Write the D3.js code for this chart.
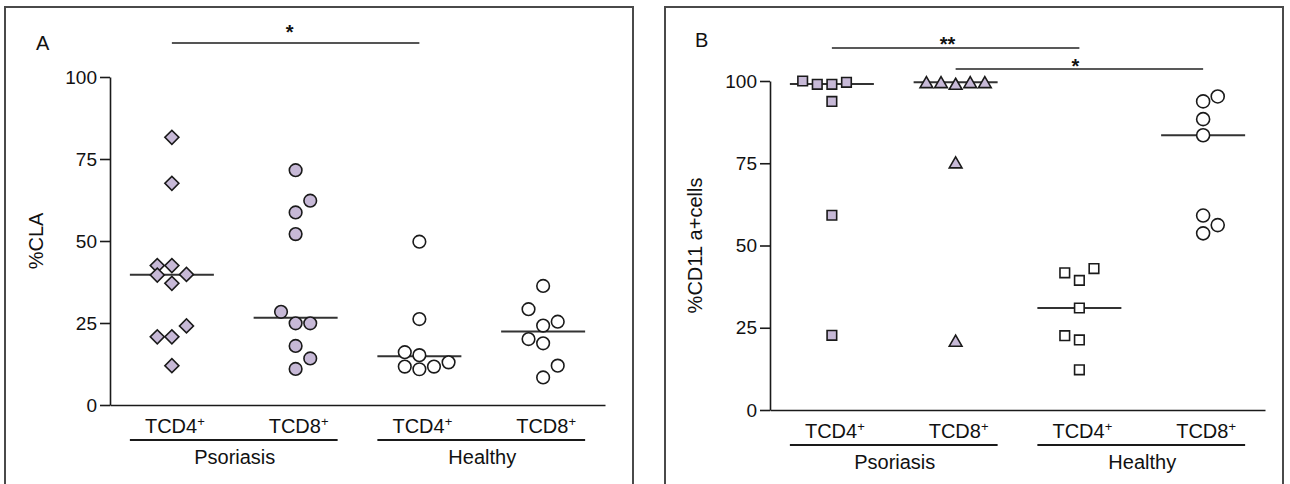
<!DOCTYPE html>
<html><head><meta charset="utf-8">
<script src="https://cdn.jsdelivr.net/npm/d3@7"></script>
<style>
body{margin:0;background:#fff}
svg{display:block}
text{font-family:"Liberation Sans",Arial,Helvetica,sans-serif;fill:#111}
</style>
</head><body>
<svg id="chart" width="1290" height="484"></svg>
<script>
// ---------- DATA ----------
const categoryKeys   = ["PsoCD4", "PsoCD8", "HeaCD4", "HeaCD8"];
const categoryLabels = ["TCD4", "TCD8", "TCD4", "TCD8"];
const categorySup    = "+";
const groupNames     = ["Psoriasis", "Healthy"];
const groupMembers   = [[0, 1], [2, 3]];
const yTicks         = [0, 25, 50, 75, 100];

// Panel A: %CLA
const claPsoCD4     = [81.6, 67.6, 42.5, 42.5, 39.6, 39.8, 37.1, 24.1, 20.8, 20.8, 12.0];
const claPsoCD4Slot = [0, 0, -1, 0, -1, 1, 0, 1, -1, 0, 0];
const claPsoCD8     = [71.6, 62.3, 58.7, 52.1, 28.4, 24.9, 24.9, 18.0, 14.2, 11.0];
const claPsoCD8Slot = [0, 1, 0, 0, -1, 0, 1, 0, 1, 0];
const claHeaCD4     = [49.8, 26.2, 16.1, 15.2, 11.7, 10.9, 11.7, 13.0];
const claHeaCD4Slot = [0, 0, -1, 0, -1, 0, 1, 2];
const claHeaCD8     = [36.3, 29.2, 25.4, 24.2, 20.1, 18.8, 12.0, 8.4];
const claHeaCD8Slot = [0, -1, 1, 0, -1, 0, 1, 0];
const claMedians    = [39.7, 26.6, 14.9, 22.4];

// Panel B: %CD11a+ cells
const cdPsoCD4      = [100.0, 99.0, 99.0, 99.6, 93.8, 59.2, 22.7];
const cdPsoCD4Slot  = [-2, -1, 0, 1, 0, 0, 0];
const cdPsoCD8      = [99.1, 99.1, 98.6, 99.1, 99.1, 74.7, 20.5];
const cdPsoCD8Slot  = [-2, -1, 0, 1, 2, 0, 0];
const cdHeaCD4      = [41.7, 39.4, 43.0, 31.0, 22.6, 21.3, 12.2];
const cdHeaCD4Slot  = [-1, 0, 1, 0, -1, 0, 0];
const cdHeaCD8      = [93.8, 95.3, 88.4, 83.5, 59.1, 56.2, 53.7];
const cdHeaCD8Slot  = [0, 1, 0, 0, 0, 1, 0];
const cdMedians     = [99.1, 99.6, 31.0, 83.5];

// ---------- STYLE ----------
const LAV = "#c7b9d7";
const INK = "#1a1a1a";

const svg = d3.select("#chart");

function sym(type, size, rot) {
  return { path: d3.symbol().type(type).size(size)(), rot: rot || 0 };
}

const panels = [
  {
    letter: "A", letterX: 36, letterY: 50,
    frame: [5, 7, 628, 490],
    ax: 110, axEnd: 605, yTop: 77, yBot: 405,
    ylab: "%CLA", ylabX: 43,
    series: [claPsoCD4, claPsoCD8, claHeaCD4, claHeaCD8],
    slots: [claPsoCD4Slot, claPsoCD8Slot, claHeaCD4Slot, claHeaCD8Slot],
    medians: claMedians,
    marks: [
      { kind: "path", s: sym(d3.symbolSquare, 98, 45), fill: LAV },
      { kind: "circle", r: 6.3, fill: LAV },
      { kind: "circle", r: 6.3, fill: "#fff" },
      { kind: "circle", r: 6.3, fill: "#fff" }
    ],
    sig: [{ a: 0, b: 2, y: 43, label: "*", ty: 39, dx: -6, color: "#555", w: 2.2 }],
    labY: 433, ulY: 440, grpY: 464
  },
  {
    letter: "B", letterX: 695, letterY: 47,
    frame: [665, 7, 618, 490],
    ax: 770, axEnd: 1265, yTop: 81, yBot: 410,
    ylab: "%CD11 a+cells", ylabX: 702,
    series: [cdPsoCD4, cdPsoCD8, cdHeaCD4, cdHeaCD8],
    slots: [cdPsoCD4Slot, cdPsoCD8Slot, cdHeaCD4Slot, cdHeaCD8Slot],
    medians: cdMedians,
    marks: [
      { kind: "path", s: sym(d3.symbolSquare, 92, 0), fill: LAV },
      { kind: "path", s: sym(d3.symbolTriangle, 70, 0), fill: LAV },
      { kind: "path", s: sym(d3.symbolSquare, 92, 0), fill: "#fff" },
      { kind: "circle", r: 6.5, fill: "#fff" }
    ],
    sig: [
      { a: 0, b: 2, y: 48, label: "**", ty: 51, dx: -8, color: "#222", w: 1.6 },
      { a: 1, b: 3, y: 69, label: "*", ty: 73, dx: -4, color: "#222", w: 1.6 }
    ],
    labY: 438, ulY: 445, grpY: 469
  }
];

panels.forEach(p => {
  const g = svg.append("g");
  // frame
  g.append("rect")
    .attr("x", p.frame[0]).attr("y", p.frame[1])
    .attr("width", p.frame[2]).attr("height", p.frame[3])
    .attr("fill", "none").attr("stroke", "#4a4a4a").attr("stroke-width", 2);

  const x = d3.scaleBand().domain(categoryKeys).range([p.ax, p.axEnd]).paddingInner(0).paddingOuter(0);
  const cx = k => x(k) + x.bandwidth() / 2;
  const y = d3.scaleLinear().domain([0, 100]).range([p.yBot, p.yTop]);
  const slot = d3.scaleLinear().domain([0, 1]).range([0, 14.6]);

  // y axis
  const ya = g.append("g").attr("transform", `translate(${p.ax},0)`)
    .call(d3.axisLeft(y).tickValues(yTicks).tickSize(10).tickSizeOuter(0).tickPadding(3));
  ya.select(".domain").attr("stroke", INK).attr("stroke-width", 1.6);
  ya.selectAll(".tick line").attr("stroke", INK).attr("stroke-width", 1.6);
  ya.selectAll(".tick text").attr("font-size", 19).attr("fill", INK)
    .attr("font-family", '"Liberation Sans",Arial,sans-serif');

  // x axis (domain line only)
  const xa = g.append("g").attr("transform", `translate(0,${p.yBot})`)
    .call(d3.axisBottom(x).tickSize(0).tickSizeOuter(0).tickFormat(""));
  xa.select(".domain").attr("stroke", INK).attr("stroke-width", 1.6);
  xa.selectAll(".tick").remove();

  // category labels
  categoryKeys.forEach((k, i) => {
    const t = g.append("text").attr("x", cx(k) + 3).attr("y", p.labY)
      .attr("text-anchor", "middle").attr("font-size", 20);
    t.append("tspan").text(categoryLabels[i]);
    t.append("tspan").attr("font-size", 13).attr("dy", -7).text(categorySup);
  });

  // group underlines + names
  groupMembers.forEach((m, gi) => {
    const x1 = cx(categoryKeys[m[0]]) - 42;
    const x2 = cx(categoryKeys[m[m.length - 1]]) + 42;
    g.append("line").attr("x1", x1).attr("x2", x2).attr("y1", p.ulY).attr("y2", p.ulY)
      .attr("stroke", INK).attr("stroke-width", 2);
    g.append("text").attr("x", (x1 + x2) / 2 + 1).attr("y", p.grpY)
      .attr("text-anchor", "middle").attr("font-size", 20).text(groupNames[gi]);
  });

  // panel letter
  g.append("text").attr("x", p.letterX).attr("y", p.letterY).attr("font-size", 20).text(p.letter);

  // y label
  g.append("text")
    .attr("transform", `translate(${p.ylabX},${(p.yTop + p.yBot) / 2}) rotate(-90)`)
    .attr("text-anchor", "middle").attr("font-size", 20).text(p.ylab);

  // medians
  p.medians.forEach((m, i) => {
    const c = cx(categoryKeys[i]);
    g.append("line").attr("x1", c - 42).attr("x2", c + 42)
      .attr("y1", y(m)).attr("y2", y(m))
      .attr("stroke", "#333").attr("stroke-width", 2);
  });

  // points
  p.series.forEach((vals, i) => {
    const c = cx(categoryKeys[i]);
    const mk = p.marks[i];
    const pts = vals.map((v, j) => ({ v, s: p.slots[i][j] }));
    if (mk.kind === "circle") {
      g.selectAll(null).data(pts).enter().append("circle")
        .attr("cx", d => c + slot(d.s)).attr("cy", d => y(d.v)).attr("r", mk.r)
        .attr("fill", mk.fill).attr("stroke", INK).attr("stroke-width", 1.6);
    } else {
      g.selectAll(null).data(pts).enter().append("path")
        .attr("d", mk.s.path)
        .attr("transform", d => `translate(${c + slot(d.s)},${y(d.v)}) rotate(${mk.s.rot})`)
        .attr("fill", mk.fill).attr("stroke", INK).attr("stroke-width", 1.6);
    }
  });

  // significance bars
  p.sig.forEach(s => {
    const x1 = cx(categoryKeys[s.a]), x2 = cx(categoryKeys[s.b]);
    g.append("line").attr("x1", x1).attr("x2", x2).attr("y1", s.y).attr("y2", s.y)
      .attr("stroke", s.color).attr("stroke-width", s.w);
    g.append("text").attr("x", (x1 + x2) / 2 + s.dx).attr("y", s.ty)
      .attr("text-anchor", "middle").attr("font-size", 20).attr("font-weight", "bold").text(s.label);
  });
});
</script>
</body></html>
